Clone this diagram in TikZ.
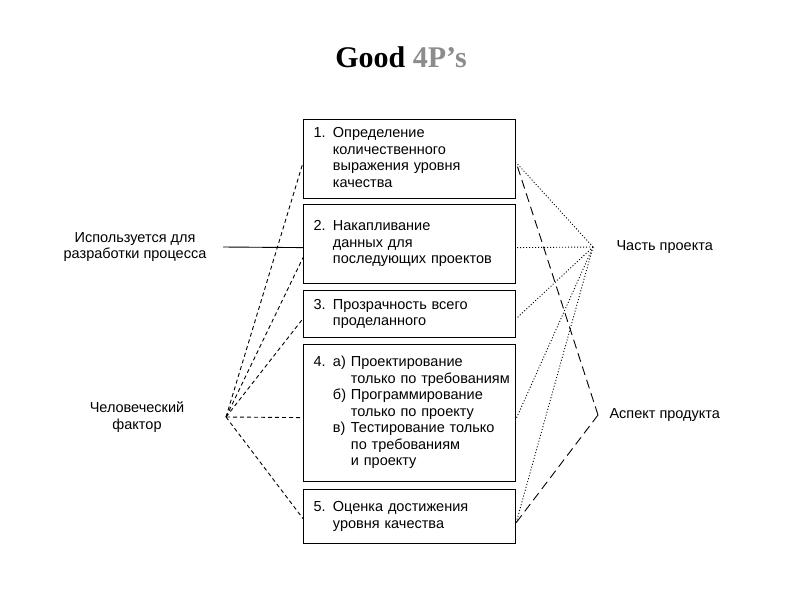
\documentclass[tikz,border=0pt]{standalone}
\usepackage{fontspec}
\setmainfont{Liberation Sans}
\newfontfamily\titlefont{Liberation Serif}
\usetikzlibrary{positioning}
\definecolor{titlegray}{gray}{0.55}

\tikzset{
  box/.style={draw, line width=1.2pt, rectangle, anchor=north west, minimum width=212pt,
    text width=192pt, inner xsep=10pt, align=left, font=\fontsize{14.5}{16.5}\selectfont},
  lbl/.style={font=\fontsize{14.5}{16.5}\selectfont, align=center},
  human/.style={line width=0.9pt, dash pattern=on 4pt off 3pt},
  part/.style={line width=0.9pt, dash pattern=on 1pt off 2pt},
  aspect/.style={line width=0.9pt, dash pattern=on 9pt off 5pt}
}

\begin{document}
\begin{tikzpicture}[x=1pt, y=-1pt]

  \useasboundingbox (0,0) rectangle (800,600);

  \node[] (title) at (401,57) {\titlefont\bfseries\fontsize{30}{34}\selectfont Good \textcolor{titlegray}{4P’s}};

  % the five boxes
  \node[box, minimum height=79pt] (box1) at (303,119) {\begin{tabular}{@{}l@{ }l@{}}
    1. & Определение\\ & количественного\\ & выражения уровня\\ & качества\end{tabular}};
  \node[box, minimum height=79pt] (box2) at (303,204) {\begin{tabular}{@{}l@{ }l@{}}
    2. & Накапливание\\ & данных для\\ & последующих проектов\end{tabular}};
  \node[box, minimum height=47pt] (box3) at (303,290) {\begin{tabular}{@{}l@{ }l@{}}
    3. & Прозрачность всего\\ & проделанного\end{tabular}};
  \node[box, minimum height=137pt] (box4) at (303,344) {\begin{tabular}{@{}l@{ }l@{ }l@{}}
    4. & а) & Проектирование\\ & & только по требованиям\\
       & б) & Программирование\\ & & только по проекту\\
       & в) & Тестирование только\\ & & по требованиям\\ & & и проекту\end{tabular}};
  \node[box, minimum height=54pt] (box5) at (303,489) {\begin{tabular}{@{}l@{ }l@{}}
    5. & Оценка достижения\\ & уровня качества\end{tabular}};

  % left side
  \node[lbl] (uselbl) at (135,247) {Используется для\\разработки процесса};
  \coordinate (use) at (223,247);
  \draw[line width=0.9pt] (use) -- ([yshift=-3.5pt]box2.west);

  \node[lbl] (hflbl) at (137,417) {Человеческий\\фактор};
  \coordinate (hf) at (226,417);
  \draw[human] (hf) -- ([yshift=-3.5pt]box1.west);
  \draw[human] (hf) -- ([yshift=-13.5pt]box2.west);
  \draw[human] (hf) -- ([yshift=-4.5pt]box3.west);
  \draw[human] (hf) -- ([yshift=-4.5pt]box4.west);
  \draw[human] (hf) -- ([yshift=-2pt]box5.west);

  % right side
  \coordinate (part) at (593,247);
  \node[lbl, anchor=west] (partlbl) at (613,247) {Часть проекта};
  \draw[part] (part) -- ([yshift=-3.5pt]box1.east);
  \draw[part] (part) -- ([yshift=-3.5pt]box2.east);
  \draw[part] (part) -- ([yshift=-4.5pt]box3.east);
  \draw[part] (part) -- ([yshift=-5.5pt]box4.east);
  \draw[part] (part) -- ([yshift=-6pt]box5.east);

  \coordinate (aspect) at (598,415);
  \node[lbl, anchor=west] (aspectlbl) at (606,415) {Аспект продукта};
  \draw[aspect] (aspect) -- ([yshift=-3.5pt]box1.east);
  \draw[aspect] (aspect) -- ([yshift=-6pt]box5.east);

\end{tikzpicture}
\end{document}
